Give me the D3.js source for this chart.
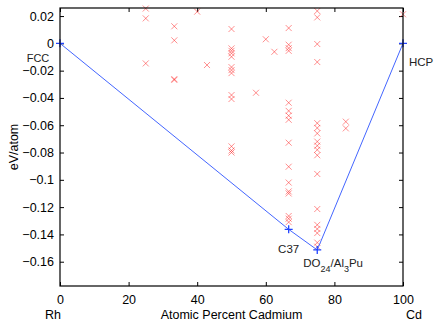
<!DOCTYPE html>
<html>
<head>
<meta charset="utf-8">
<script src="https://cdn.jsdelivr.net/npm/d3@7"></script>
<style>
  body { margin: 0; background: #fff; }
  text { font-family: "Liberation Sans", Arial, Helvetica, sans-serif; }
</style>
</head>
<body>
<div id="chart"></div>
<script>
// structures: composition (at.% Cd) and formation energy (eV/atom)
var structX = [25, 25, 25,
  33.33, 33.33, 33.33, 33.33,
  40, 42.86,
  50, 50, 50, 50, 50, 50, 50, 50, 50, 50, 50, 50, 50,
  57.14, 60, 62.5,
  66.67, 66.67, 66.67, 66.67, 66.67, 66.67, 66.67, 66.67, 66.67, 66.67, 66.67, 66.67, 66.67, 66.67, 66.67, 66.67,
  75, 75, 75, 75, 75, 75, 75, 75, 75, 75, 75, 75, 75, 75, 75, 75, 75, 75,
  83.33, 83.33, 100];
var structE = [0.0255, 0.0183, -0.0147,
  0.0125, 0.0022, -0.0262, -0.0268,
  0.0232, -0.0159,
  0.0105, -0.0037, -0.0055, -0.0073, -0.0098, -0.0174, -0.0196, -0.0218, -0.0379, -0.0408, -0.0755, -0.0785, -0.0800,
  -0.0362, 0.0030, -0.0062,
  0.0112, -0.0010, -0.0035, -0.0055, -0.0435, -0.0495, -0.0530, -0.0560, -0.0728, -0.0904, -0.1020, -0.1085, -0.1100, -0.1265, -0.1285, -0.1310,
  0.0237, 0.0190, -0.0005, -0.0137, -0.0585, -0.0620, -0.0660, -0.0720, -0.0750, -0.0780, -0.0820, -0.0957, -0.1214, -0.1330, -0.1360, -0.1390, -0.1460, -0.1490,
  -0.0574, -0.0623, 0.0213];

// convex hull ground states
var hullX = [0, 66.67, 75, 100];
var hullE = [0, -0.1363, -0.1514, 0];

var xTicks = [0, 20, 40, 60, 80, 100];
var yTicks = [0.02, 0, -0.02, -0.04, -0.06, -0.08, -0.1, -0.12, -0.14, -0.16];

var margin = {top: 8, right: 33, bottom: 38, left: 60},
    width = 436 - margin.left - margin.right,
    height = 324 - margin.top - margin.bottom;

var svg = d3.select("#chart")
  .append("svg")
    .attr("width", 436)
    .attr("height", 324)
  .append("g")
    .attr("transform", "translate(" + margin.left + "," + margin.top + ")");

var x = d3.scaleLinear().domain([0, 100]).range([0, width]);
var y = d3.scaleLinear().domain([-0.1778, 0.0259]).range([height, 0]);

var fmt = function(d) { return d === 0 ? "0" : d3.format("")(+d.toFixed(2)).replace("-", "\u2212"); };

// axes with inside ticks, box style
var tick = 4;
svg.append("g")
  .attr("transform", "translate(0," + height + ")")
  .call(d3.axisBottom(x).tickValues(xTicks).tickSizeInner(-tick).tickSizeOuter(0).tickPadding(9).tickFormat(d3.format("d")))
  .call(function(g) { g.select(".domain").remove(); });
svg.append("g")
  .call(d3.axisTop(x).tickValues(xTicks).tickSizeInner(-tick).tickSizeOuter(0).tickFormat(""))
  .call(function(g) { g.select(".domain").remove(); });
svg.append("g")
  .call(d3.axisLeft(y).tickValues(yTicks).tickSizeInner(-tick).tickSizeOuter(0).tickPadding(6).tickFormat(fmt))
  .call(function(g) { g.select(".domain").remove(); });
svg.append("g")
  .attr("transform", "translate(" + width + ",0)")
  .call(d3.axisRight(y).tickValues(yTicks).tickSizeInner(-tick).tickSizeOuter(0).tickFormat(""))
  .call(function(g) { g.select(".domain").remove(); });

svg.selectAll(".tick text").style("font-size", "12.5px").attr("fill", "#000");
svg.selectAll(".tick line").attr("stroke", "#000");

// structure energies as red x
var s = 3;
var crosses = svg.append("g")
  .selectAll("path")
  .data(structX.map(function(d, i) { return [d, structE[i]]; }))
  .enter()
  .append("path")
    .attr("d", function(d) {
      var cx = x(d[0]), cy = y(d[1]);
      return "M" + (cx - s) + "," + (cy - s) + "L" + (cx + s) + "," + (cy + s) +
             "M" + (cx - s) + "," + (cy + s) + "L" + (cx + s) + "," + (cy - s);
    })
    .attr("stroke", "#ff2020")
    .attr("stroke-opacity", 0.5)
    .attr("stroke-width", 1)
    .attr("fill", "none");

// hull line
var hull = hullX.map(function(d, i) { return [d, hullE[i]]; });
svg.append("path")
  .datum(hull)
  .attr("fill", "none")
  .attr("stroke", "#4466ff")
  .attr("stroke-width", 1)
  .attr("d", d3.line().x(function(d) { return x(d[0]); }).y(function(d) { return y(d[1]); }));

var p = 4;
svg.append("g")
  .selectAll("path")
  .data(hull)
  .enter()
  .append("path")
    .attr("d", function(d) {
      var cx = x(d[0]), cy = y(d[1]);
      return "M" + (cx - p) + "," + cy + "L" + (cx + p) + "," + cy +
             "M" + cx + "," + (cy - p) + "L" + cx + "," + (cy + p);
    })
    .attr("stroke", "#2244ff")
    .attr("stroke-width", 1.3);

// box
svg.append("rect")
  .attr("width", width)
  .attr("height", height)
  .attr("fill", "none")
  .attr("stroke", "#000")
  .attr("stroke-width", 1.2);

// phase labels
var lab = svg.append("g").style("font-size", "11.5px").attr("fill", "#222");
lab.append("text").attr("x", x(0) - 22).attr("y", y(0) + 18.5).attr("text-anchor", "middle").style("font-size", "11px").text("FCC");
lab.append("text").attr("x", x(100) + 6).attr("y", y(0) + 23).text("HCP");
lab.append("text").attr("x", x(66.67)).attr("y", y(-0.1363) + 24).attr("text-anchor", "middle").text("C37");
var dlab = lab.append("text").attr("x", x(75) - 14).attr("y", y(-0.1514) + 17);
dlab.append("tspan").text("DO");
dlab.append("tspan").attr("dy", 5).style("font-size", "9px").text("24");
dlab.append("tspan").attr("dy", -5).text("/Al");
dlab.append("tspan").attr("dy", 5).style("font-size", "9px").text("3");
dlab.append("tspan").attr("dy", -5).text("Pu");

// axis titles
svg.append("text")
  .attr("x", width / 2)
  .attr("y", height + 33)
  .attr("text-anchor", "middle")
  .style("font-size", "12.5px")
  .text("Atomic Percent Cadmium");
svg.append("text")
  .attr("x", x(0) - 7)
  .attr("y", height + 33)
  .attr("text-anchor", "middle")
  .style("font-size", "12.5px")
  .text("Rh");
svg.append("text")
  .attr("x", x(100) + 11)
  .attr("y", height + 33)
  .attr("text-anchor", "middle")
  .style("font-size", "12.5px")
  .text("Cd");
svg.append("text")
  .attr("transform", "translate(" + (-42) + "," + (height / 2) + ") rotate(-90)")
  .attr("text-anchor", "middle")
  .style("font-size", "12.5px")
  .text("eV/atom");
</script>
</body>
</html>
